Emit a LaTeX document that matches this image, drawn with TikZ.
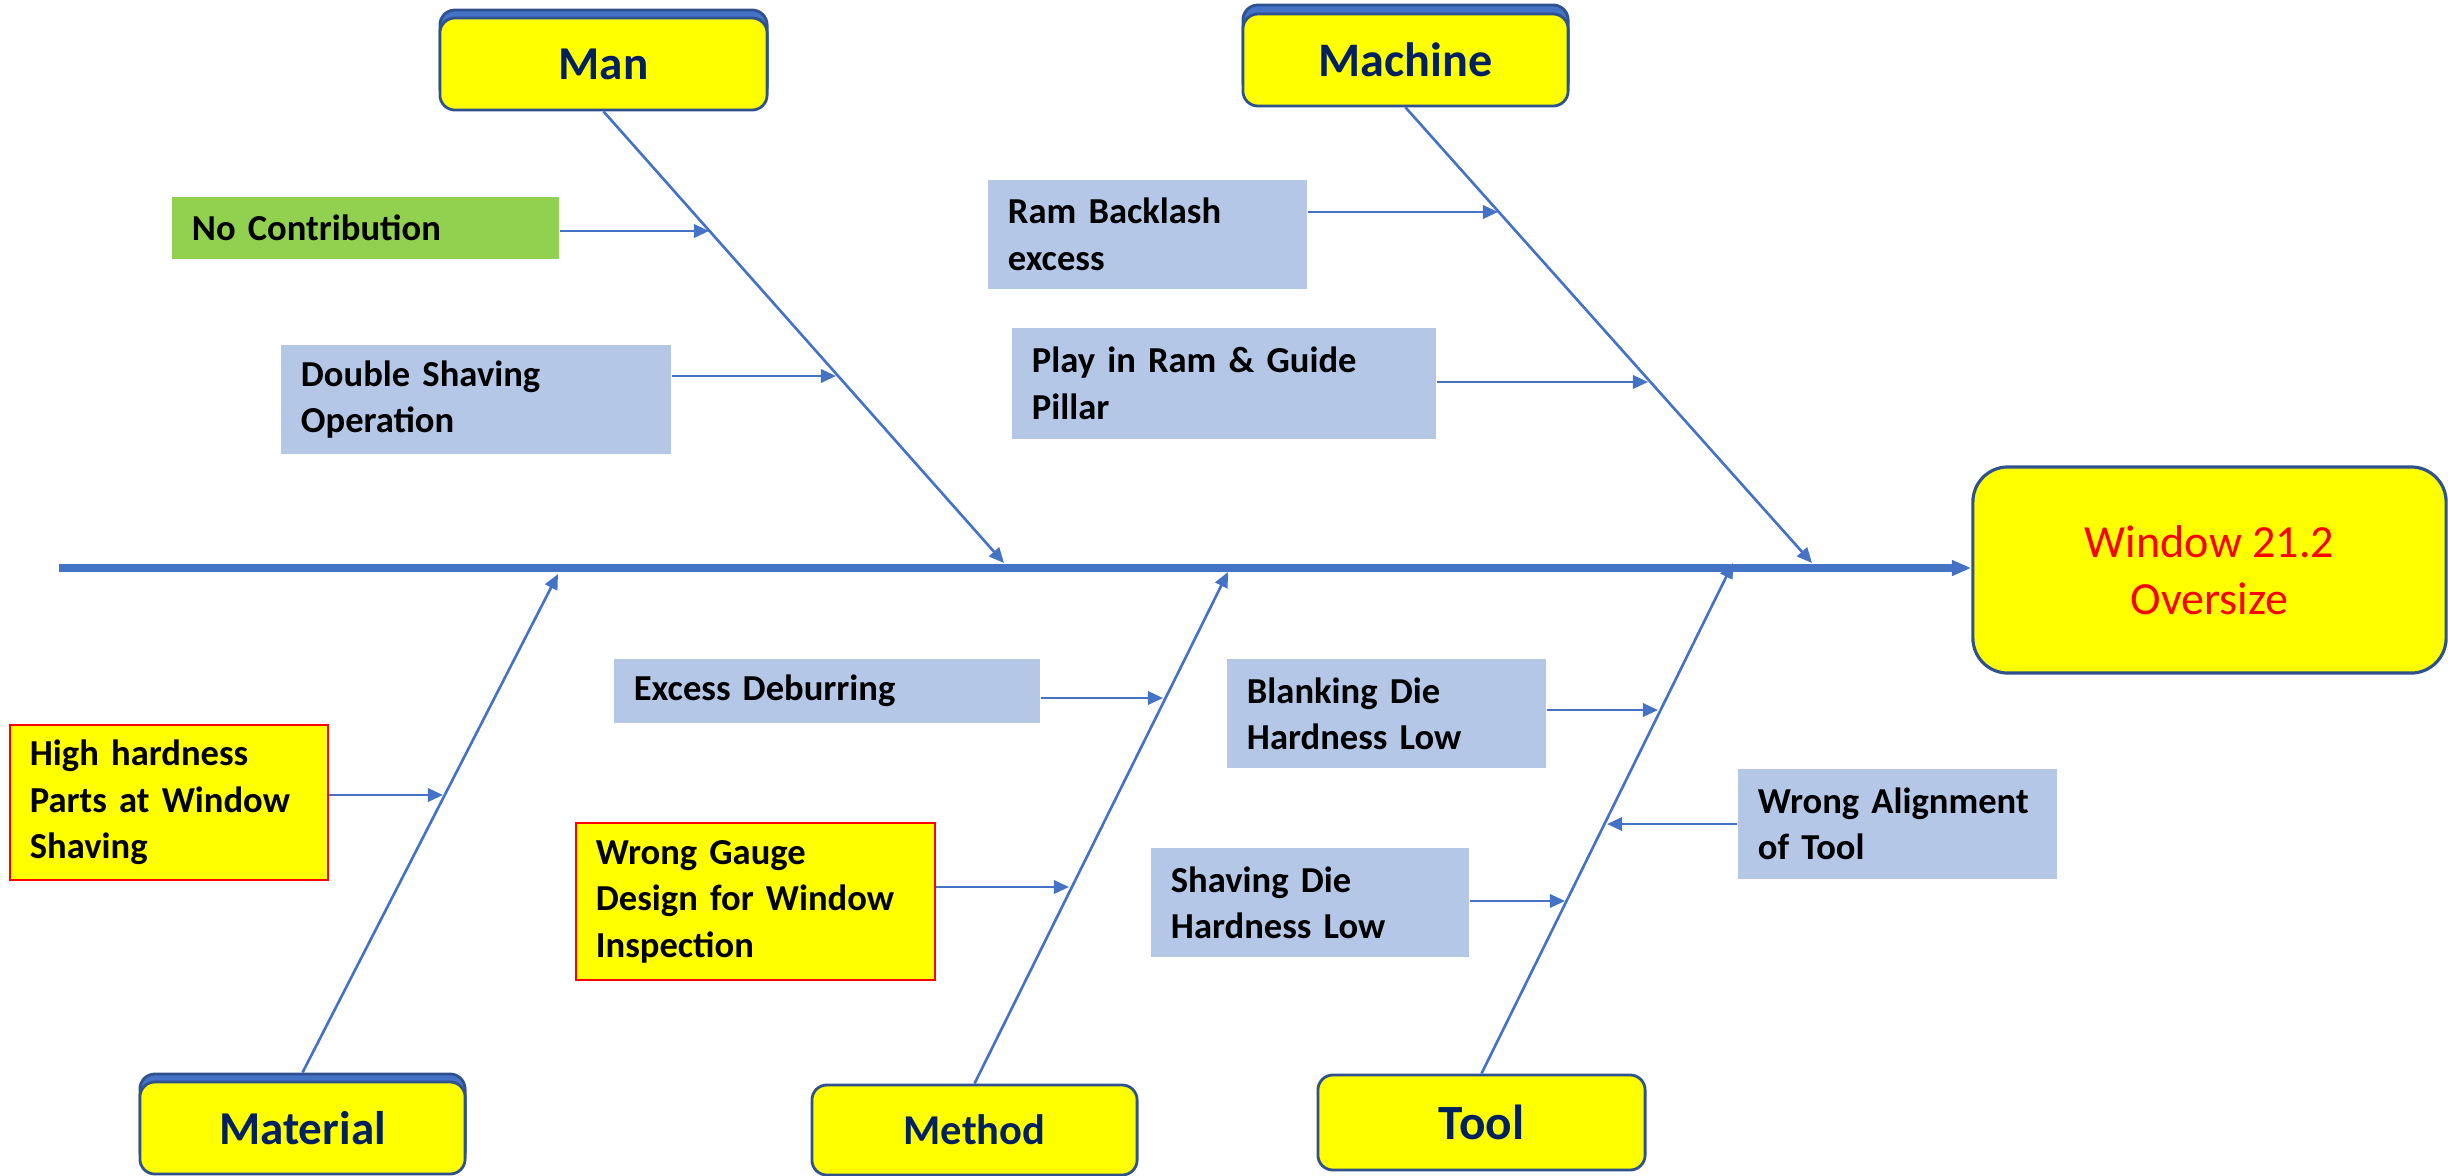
\documentclass[tikz,border=0pt]{standalone}
\usepackage{fontspec}
\setmainfont{Carlito}
\usetikzlibrary{arrows.meta}
\definecolor{bone}{HTML}{4472C4}
\definecolor{edgeblue}{HTML}{2F528F}
\definecolor{lblue}{HTML}{B4C7E7}
\definecolor{lgreen}{HTML}{92D050}
\definecolor{navy}{HTML}{002060}
\definecolor{yel}{HTML}{FFFF00}
\begin{document}
\begin{tikzpicture}[x=0.01cm,y=-0.01cm,
  cause/.style={rectangle, inner xsep=0.2cm, inner ysep=0pt, align=left,
    font=\fontsize{10.4}{13.2}\selectfont\bfseries, text=black},
  bluecause/.style={cause, fill=lblue},
  greencause/.style={cause, fill=lgreen},
  yelcause/.style={cause, fill=yel, draw=red, line width=0.6pt},
  catbox/.style={rectangle, rounded corners=0.15cm, fill=yel, draw=edgeblue, line width=0.8pt,
    font=\fontsize{13.4}{16}\selectfont\bfseries, text=navy},
  catback/.style={rectangle, rounded corners=0.15cm, fill=bone, draw=edgeblue, line width=0.8pt},
  winbox/.style={rectangle, rounded corners=0.35cm, fill=yel, draw=edgeblue, line width=0.9pt,
    align=center, font=\fontsize{13.1}{16.1}\selectfont, text=red},
  bonel/.style={draw=bone, line width=0.75pt, -{Triangle[length=4.3pt,width=3.8pt]}},
  spineline/.style={draw=bone, line width=2.3pt, -{Triangle[length=5.5pt,width=4.2pt]}}
]
\useasboundingbox (0,0) rectangle (2448,1175);

% category boxes
\node[catback, minimum width=3.27cm, minimum height=0.92cm] (manb) at (603.5,56) {};
\node[catbox, minimum width=3.27cm, minimum height=0.92cm] (man) at (603.5,64) {Man};
\node[catback, minimum width=3.25cm, minimum height=0.92cm] (machb) at (1405.5,51) {};
\node[catbox, minimum width=3.25cm, minimum height=0.92cm] (mach) at (1405.5,60) {\fontsize{13.7}{16}\selectfont Machine};
\node[catback, minimum width=3.25cm, minimum height=0.92cm] (matb) at (302.5,1120) {};
\node[catbox, minimum width=3.25cm, minimum height=0.92cm] (mat) at (302.5,1128) {Material};
\node[catbox, minimum width=3.25cm, minimum height=0.90cm] (meth) at (974.5,1130) {\fontsize{12.1}{15}\selectfont Method};
\node[catbox, minimum width=3.27cm, minimum height=0.95cm] (tool) at (1481.5,1122.5) {\fontsize{14}{16}\selectfont Tool};

% effect
\node[winbox, minimum width=4.73cm, minimum height=2.06cm] (win) at (2209.5,570) {Window 21.2\\Oversize};

% spine
\coordinate (sp) at (59,568);
\draw[spineline] (sp) -- (sp -| win.west);

% bones
\coordinate (manend) at (1004,563);
\coordinate (machend) at (1812,563);
\coordinate (matend) at (558,574);
\coordinate (methend) at (1228,572);
\coordinate (toolend) at (1733,563);
\draw[bonel] (man.south) -- (manend);
\draw[bonel] (mach.south) -- (machend);
\draw[bonel] (matb.north) -- (matend);
\draw[bonel] (meth.north) -- (methend);
\draw[bonel] (tool.north) -- (toolend);

% causes
\node[greencause, text width=3.47cm, minimum height=0.62cm] (nc) at (365.5,228) {No Contribution};
\node[bluecause, text width=3.50cm, minimum height=1.09cm] (ds) at (476,399.5) {Double Shaving\\Operation};
\node[bluecause, text width=2.79cm, minimum height=1.09cm] (rb) at (1147.5,234.5) {Ram Backlash\\excess};
\node[bluecause, text width=3.84cm, minimum height=1.11cm] (pr) at (1224,383.5) {Play in Ram \& Guide\\Pillar};
\node[bluecause, text width=3.86cm, minimum height=0.64cm] (ed) at (827,691) {Excess Deburring};
\node[yelcause, text width=3.19cm, minimum height=1.57cm] (wg) at (755.5,901.5) {Wrong Gauge\\Design for Window\\Inspection};
\node[yelcause, text width=2.78cm, minimum height=1.55cm] (hh) at (169,802.5) {High hardness\\Parts at Window\\Shaving};
\node[bluecause, text width=2.79cm, minimum height=1.09cm] (bd) at (1386.5,713.5) {Blanking Die\\Hardness Low};
\node[bluecause, text width=2.78cm, minimum height=1.09cm] (sd) at (1310,902.5) {Shaving Die\\Hardness Low};
\node[bluecause, text width=2.79cm, minimum height=1.10cm] (wa) at (1897.5,824) {Wrong Alignment\\of Tool};

% cause arrow tips on bones
\coordinate (nct) at (709,231);
\coordinate (dst) at (836,376);
\coordinate (rbt) at (1498,212);
\coordinate (prt) at (1648,382);
\coordinate (hht) at (443,795);
\coordinate (edt) at (1163,698);
\coordinate (wgt) at (1069,887);
\coordinate (bdt) at (1658,710);
\coordinate (sdt) at (1565,901);
\coordinate (wat) at (1607,824);

\draw[bonel] (nc.east |- nct) -- (nct);
\draw[bonel] (ds.east |- dst) -- (dst);
\draw[bonel] (rb.east |- rbt) -- (rbt);
\draw[bonel] (pr.east |- prt) -- (prt);
\draw[bonel] (hh.east |- hht) -- (hht);
\draw[bonel] (ed.east |- edt) -- (edt);
\draw[bonel] (wg.east |- wgt) -- (wgt);
\draw[bonel] (bd.east |- bdt) -- (bdt);
\draw[bonel] (sd.east |- sdt) -- (sdt);
\draw[bonel] (wa.west |- wat) -- (wat);
\end{tikzpicture}
\end{document}
